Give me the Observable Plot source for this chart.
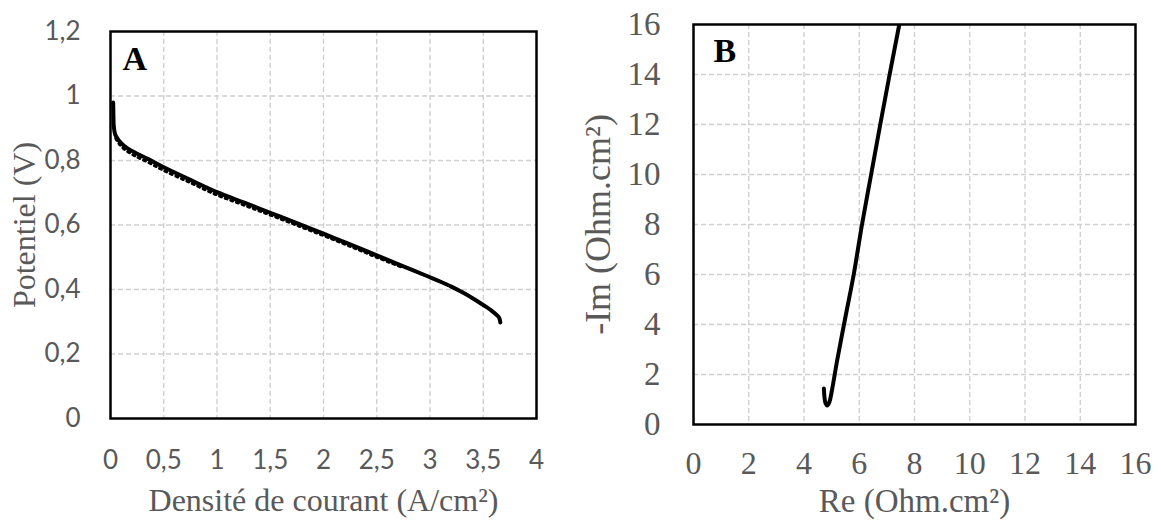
<!DOCTYPE html>
<html><head><meta charset="utf-8">
<script src="https://cdn.jsdelivr.net/npm/d3@7"></script>
<script src="https://cdn.jsdelivr.net/npm/@observablehq/plot@0.6"></script>
<style>
body{margin:0;background:#fff;}
#wrap{position:relative;width:1161px;height:520px;overflow:hidden;}
#a{position:absolute;left:0;top:0;}
#b{position:absolute;left:540px;top:0;}
</style></head><body><div id="wrap"><div id="a"></div><div id="b"></div></div>
<script>
// Panel A: polarisation curve
const densite    = [0.025, 0.028, 0.03, 0.045, 0.078, 0.13, 0.22, 0.35, 0.5, 0.75, 1.0, 1.25, 1.5, 1.75, 2.0, 2.25, 2.5, 2.75, 3.0, 3.1, 3.2, 3.3, 3.4, 3.5, 3.58, 3.63, 3.65, 3.66];
const potentiel  = [0.98, 0.93, 0.91, 0.88, 0.862, 0.845, 0.826, 0.805, 0.779, 0.74, 0.702, 0.67, 0.638, 0.606, 0.573, 0.54, 0.506, 0.472, 0.438, 0.424, 0.409, 0.392, 0.373, 0.352, 0.334, 0.32, 0.312, 0.298];
// second (dotted) record, slightly below
const densite2   = [0.05, 0.08, 0.13, 0.22, 0.35, 0.5, 0.75, 1.0, 1.25, 1.5, 1.75, 2.0, 2.25, 2.5, 2.75];
const potentiel2 = [0.868, 0.852, 0.835, 0.816, 0.795, 0.769, 0.731, 0.693, 0.662, 0.631, 0.599, 0.567, 0.534, 0.5, 0.467];
const ticksAx = [0, 0.5, 1, 1.5, 2, 2.5, 3, 3.5, 4];
const ticksAy = [0, 0.2, 0.4, 0.6, 0.8, 1, 1.2];
const labelAx = "Densité de courant (A/cm²)";
const labelAy = "Potentiel (V)";

// Panel B: Nyquist
const re = [4.72, 4.74, 4.78, 4.84, 4.92, 5.0, 5.2, 5.5, 5.8, 6.1, 6.43, 6.76, 7.1, 7.45];
const im = [1.44, 1.1, 0.85, 0.76, 0.9, 1.3, 2.56, 4.3, 6.0, 8.0, 10.0, 12.0, 14.0, 16.0];
const ticksB = [0, 2, 4, 6, 8, 10, 12, 14, 16];
const labelBx = "Re (Ohm.cm²)";
const labelBy = "-Im (Ohm.cm²)";

const grey = "#595959";
const serif = "'Liberation Serif', 'DejaVu Serif', serif";
const sans = "Lato, 'Open Sans', sans-serif";
const comma = d => String(d).replace(".", ",");
const gridStyle = {stroke: "#d0d0d0", strokeOpacity: 1, strokeWidth: 1.4, strokeDasharray: "5,3"};

const dataA = densite.map((d, i) => ({j: d, v: potentiel[i]}));
const dataA2 = densite2.map((d, i) => ({j: d, v: potentiel2[i]}));
const dataB = re.map((d, i) => ({re: d, im: im[i]}));

const plotA = Plot.plot({
  width: 580, height: 520,
  marginLeft: 110, marginRight: 44, marginTop: 31, marginBottom: 102,
  style: {background: "transparent", fontFamily: sans, color: grey},
  x: {domain: [0, 4]},
  y: {domain: [0, 1.2]},
  marks: [
    Plot.gridX(ticksAx.slice(1, -1), gridStyle),
    Plot.gridY(ticksAy.slice(1, -1), gridStyle),
    Plot.axisX(ticksAx, {tickSize: 0, tickPadding: 32, tickFormat: comma, fontSize: 26, fontFamily: sans, fill: grey, label: null}),
    Plot.axisY(ticksAy, {tickSize: 0, tickPadding: 30, tickFormat: comma, fontSize: 26, fontFamily: sans, fill: grey, label: null}),
    Plot.line(dataA2, {x: "j", y: "v", stroke: "black", strokeWidth: 3, strokeDasharray: "2,4", curve: "catmull-rom"}),
    Plot.line(dataA, {x: "j", y: "v", stroke: "black", strokeWidth: 4, curve: "catmull-rom", strokeLinecap: "round", strokeLinejoin: "round"}),
    Plot.frame({stroke: "black", strokeWidth: 2.5}),
    Plot.text(["A"], {frameAnchor: "top-left", dx: 12, dy: 28, textAnchor: "start", lineAnchor: "middle", fontSize: 34, fontWeight: "bold", fontFamily: serif, fill: "black"}),
    Plot.text([labelAx], {frameAnchor: "bottom", dy: 82, textAnchor: "middle", lineAnchor: "middle", fontSize: 32, fontFamily: serif, fill: grey}),
    Plot.text([labelAy], {frameAnchor: "left", dx: -86, rotate: -90, textAnchor: "middle", lineAnchor: "middle", fontSize: 32, fontFamily: serif, fill: grey})
  ]
});
document.getElementById("a").append(plotA);

const plotB = Plot.plot({
  width: 621, height: 520,
  marginLeft: 153, marginRight: 26, marginTop: 24, marginBottom: 96,
  style: {background: "transparent", fontFamily: serif, color: grey},
  x: {domain: [0, 16]},
  y: {domain: [0, 16]},
  marks: [
    Plot.gridX(ticksB.slice(1, -1), gridStyle),
    Plot.gridY(ticksB.slice(1, -1), gridStyle),
    Plot.axisX(ticksB, {tickSize: 0, tickPadding: 27, fontSize: 32, fontFamily: serif, fill: grey, label: null}),
    Plot.axisY(ticksB, {tickSize: 0, tickPadding: 33, fontSize: 33, fontFamily: serif, fill: grey, label: null}),
    Plot.line(dataB, {x: "re", y: "im", stroke: "black", strokeWidth: 4, curve: "catmull-rom", strokeLinecap: "round", strokeLinejoin: "round", clip: true}),
    Plot.frame({stroke: "black", strokeWidth: 2.5}),
    Plot.text(["B"], {frameAnchor: "top-left", dx: 20, dy: 27, textAnchor: "start", lineAnchor: "middle", fontSize: 34, fontWeight: "bold", fontFamily: serif, fill: "black"}),
    Plot.text([labelBx], {frameAnchor: "bottom", dy: 77, textAnchor: "middle", lineAnchor: "middle", fontSize: 33, fontFamily: serif, fill: grey}),
    Plot.text([labelBy], {frameAnchor: "left", dx: -95, rotate: -90, textAnchor: "middle", lineAnchor: "middle", fontSize: 36, fontFamily: serif, fill: grey})
  ]
});
document.getElementById("b").append(plotB);
</script>
</body></html>
